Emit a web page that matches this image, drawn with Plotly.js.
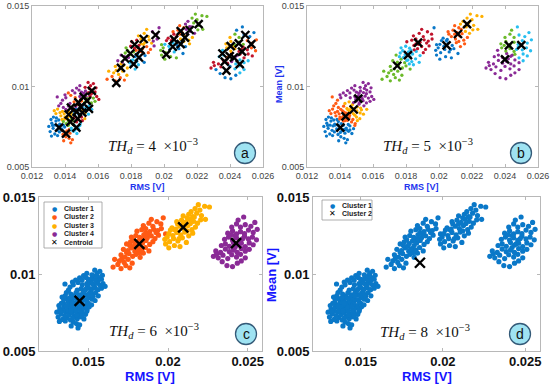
<!DOCTYPE html>
<html><head><meta charset="utf-8">
<script src="https://cdn.plot.ly/plotly-3.0.1.min.js"></script>
<style>html,body{margin:0;padding:0;background:#fff;overflow:hidden}#chart{width:550px;height:387px}</style>
</head><body><div id="chart"></div>
<script>
// ---- data (RMS, Mean) in mV, read/ ----
const group1 = [
[13.92,6.63],[14.25,6.78],[14.45,6.70],[13.18,6.92],[14.05,6.88],[13.55,6.95],
[13.38,7.05],[13.66,7.18],[13.88,7.02],[14.12,7.25],[14.30,7.10],[14.52,7.22],[14.72,7.08],[13.52,7.28],[14.02,7.15],[14.40,7.30],
[13.02,7.52],[13.28,7.40],[13.58,7.55],[13.80,7.36],[13.98,7.48],[14.18,7.58],[14.38,7.42],[14.60,7.55],[14.82,7.38],[14.26,7.33],[13.70,7.60],[14.90,7.58],
[13.20,7.72],[13.45,7.85],[13.68,7.66],[13.90,7.82],[14.08,7.70],[14.30,7.88],[14.50,7.64],[14.70,7.80],[14.92,7.70],[15.05,7.88],[13.82,7.95],[14.22,7.62],
[13.48,8.05],[13.75,8.18],[13.98,7.98],[14.18,8.12],[14.40,8.02],[14.58,8.20],[14.78,7.95],[15.00,8.10],[15.20,8.00],[14.30,8.25],[13.62,7.92],[14.90,8.22],
[13.70,8.38],[13.95,8.30],[14.15,8.48],[14.38,8.35],[14.60,8.45],[14.80,8.32],[15.02,8.48],[15.22,8.36],[15.42,8.28],[14.48,8.55],[14.05,8.58],[15.30,8.55],
[13.90,8.70],[14.22,8.78],[14.42,8.64],[14.65,8.76],[14.85,8.62],[15.05,8.74],[15.25,8.66],[15.45,8.80],[15.62,8.58],[14.75,8.88],[15.15,8.90],
[14.30,8.95],[14.55,9.05],[14.82,9.00],[15.00,9.10],[15.20,9.02],[15.40,9.12],[15.60,8.98],[15.82,9.08],[14.95,9.20],[15.35,9.25],
[14.62,9.30],[14.90,9.38],[15.10,9.42],[15.28,9.35],[15.52,9.40],[15.72,9.28],[15.92,9.38],[15.60,9.55],[15.15,9.58],
[15.00,9.65],[15.24,9.72],[15.42,9.62],[15.62,9.78],[15.82,9.66],[15.48,9.88],
[15.22,9.95],[15.55,10.05],[15.72,10.18],[15.40,10.25],[15.88,9.92],
[13.10,7.20],[16.05,9.20],[14.35,6.50],
[13.30,8.10],[13.45,8.32],[13.35,8.50],[13.55,8.60],[13.62,8.80],[13.75,8.95],[13.85,9.15],[14.05,9.30],[14.00,9.48],[14.20,9.60],
[14.35,9.45],[14.45,9.75],[14.60,9.60],[14.70,9.90],[14.85,9.78],[14.90,10.05],[13.53,9.35],[13.15,7.95],[13.40,7.60],[13.25,7.58],
[14.25,8.40],[14.50,8.30],[14.35,8.15],[14.55,8.05],[14.10,8.00],[14.65,8.60],[14.20,7.85],[14.45,7.90],[13.85,8.45],[14.00,8.10],[13.90,7.60],[14.60,7.30]
];
const group2 = [
[17.05,10.35],[17.35,10.55],[16.85,10.62],[16.55,10.45],
[16.95,10.85],[17.25,10.75],[17.50,10.95],[17.75,10.70],[17.10,11.00],[16.65,10.95],[17.60,10.40],
[17.05,11.25],[17.30,11.10],[17.55,11.32],[17.78,11.15],[18.00,11.28],[18.25,11.08],[17.40,11.40],[18.45,11.35],[18.20,11.40],
[17.20,11.60],[17.48,11.52],[17.70,11.70],[17.92,11.48],[18.12,11.65],[18.35,11.55],[18.58,11.72],[18.80,11.50],[17.85,11.80],[18.25,11.85],[18.05,11.62],[17.60,11.85],
[17.40,11.95],[17.65,12.08],[17.95,11.98],[18.15,12.15],[18.40,12.02],[18.62,12.18],[18.85,11.92],[19.05,12.10],[18.30,12.25],[17.80,12.22],[18.50,12.28],
[17.70,12.40],[17.98,12.50],[18.22,12.38],[18.48,12.55],[18.70,12.35],[18.95,12.48],[19.18,12.30],[19.40,12.52],[18.60,12.65],[18.75,12.62],[19.25,12.70],
[18.05,12.78],[18.35,12.88],[18.60,12.95],[18.85,12.75],[19.10,12.90],[19.35,12.82],[19.58,12.95],
[18.45,13.15],[18.80,13.30],[19.05,13.10],[19.30,13.40],[18.95,13.55],[19.55,13.25],[19.70,13.65],[19.85,12.60]
];
const group3 = [
[20.05,11.70],[20.40,11.85],[19.85,11.95],[20.75,11.78],
[19.80,12.25],[20.10,12.10],[20.35,12.30],[20.62,12.15],[20.90,12.35],[21.15,12.05],[19.95,12.40],[20.70,12.30],
[20.05,12.62],[20.30,12.50],[20.55,12.70],[20.80,12.55],[21.05,12.72],[21.30,12.48],[21.55,12.65],[20.45,12.85],[21.20,12.80],[20.15,12.85],
[20.25,13.00],[20.50,12.92],[20.75,13.10],[21.00,12.95],[21.25,13.15],[21.50,12.88],[21.72,13.05],[20.95,13.25],[21.40,13.28],[20.60,13.25],
[20.55,13.40],[20.85,13.50],[21.10,13.35],[21.35,13.55],[21.60,13.42],[21.85,13.30],[22.05,13.52],[21.20,13.65],[22.35,13.55],
[20.95,13.78],[21.30,13.88],[21.55,13.72],[21.80,13.95],[22.10,13.80],[21.45,14.05],[21.65,13.70],
[21.70,14.25],[22.00,14.15],[22.30,14.40],[21.90,14.50],[22.60,14.35]
];
const group4 = [
[23.70,10.55],[24.05,10.48],[24.35,10.70],[23.40,10.80],[24.60,10.85],
[22.85,11.15],[23.15,11.05],[23.45,11.22],[23.75,11.00],[24.00,11.25],[24.30,11.10],[24.55,11.28],[24.85,11.05],[23.05,11.30],
[23.00,11.50],[23.30,11.40],[23.60,11.62],[23.85,11.45],[24.10,11.55],[24.35,11.40],[24.60,11.65],[24.85,11.48],[25.10,11.60],
[23.35,11.85],[23.60,11.95],[23.85,11.80],[24.10,12.05],[24.35,11.88],[24.60,12.00],[24.85,11.78],[25.10,12.02],[25.35,11.90],[24.20,11.72],[24.45,11.95],
[23.55,12.25],[23.80,12.40],[24.05,12.20],[24.30,12.35],[24.55,12.18],[24.80,12.45],[25.05,12.28],[25.30,12.40],[25.55,12.22],[24.70,12.30],
[23.75,12.65],[24.05,12.80],[24.30,12.60],[24.55,12.75],[24.80,12.62],[25.05,12.85],[25.35,12.70],[25.60,12.90],[24.20,12.50],[23.95,12.55],
[24.00,13.05],[24.30,13.25],[24.55,13.05],[24.85,13.20],[25.20,13.10],[24.40,13.50],[24.75,13.70],[25.45,13.35]
];
// centroids (mV)
const centroidsA = [
[13.64,7.45],[14.06,7.07],[14.22,8.26],[14.36,8.69],[14.32,7.80],[14.69,7.45],[14.77,8.01],[14.71,8.42],
[14.81,9.02],[15.05,8.38],[15.13,9.36],[15.33,9.11],[15.45,8.61],[15.62,9.73],[14.95,8.73],
[17.11,10.23],[17.39,11.16],[17.64,11.74],[17.96,12.05],[18.16,11.39],[18.22,12.61],[18.48,11.80],[18.59,12.26],[18.77,12.95],[19.49,13.20],
[20.14,11.99],[20.53,12.47],[20.61,12.93],[21.01,12.63],[21.01,13.44],[21.27,13.03],[21.56,13.51],[22.10,13.88],
[23.54,12.05],[23.68,11.54],[23.78,10.98],[23.98,11.89],[24.04,12.51],[24.24,11.80],[24.53,12.68],[24.59,11.39],[24.73,12.16],[24.93,13.20],[25.29,12.63]
];
const centroidsB = [
[14.02,7.45],[14.34,8.15],[14.83,8.57],[15.11,9.25],[17.47,11.29],[18.12,11.95],[18.73,12.72],
[20.46,12.55],[21.15,13.26],[21.70,13.88],[24.00,11.68],[24.24,12.55],[24.99,12.57]
];
const centroidsC = [[14.45,8.25],[18.20,11.95],[20.95,13.03],[24.27,12.00]];
const centroidsD = [[18.60,10.73]];
const thValues = ['4','5','6','8'];
const panelLetters = ['a','b','c','d'];
const legendLabelsC = ['Cluster 1','Cluster 2','Cluster 3','Cluster 4','Centroid'];
const legendLabelsD = ['Cluster 1','Cluster 2'];
const xTickValsAB = [0.012,0.014,0.016,0.018,0.02,0.022,0.024,0.026];
const xTickTextAB = ['0.012','0.014','0.016','0.018','0.02','0.022','0.024','0.026'];
const xTickValsCD = [0.015,0.02,0.025];
const xTickTextCD = ['0.015','0.02','0.025'];
const yTickVals = [0.005,0.01,0.015];
const yTickText = ['0.005','0.01','0.015'];

const colors = ['#0a78c8','#ff5a14','#ffb000','#8a2a96','#6cba2a','#28bff0','#c0142c'];
const W = 550, H = 387;
const px = x => x / W, py = y => 1 - y / H;
const V = v => v / 1000;

const allPts = group1.concat(group2, group3, group4);
function nearest(p, cents) {
  let best = 0, bd = Infinity;
  cents.forEach((c, i) => { const dx = p[0]-c[0], dy = p[1]-c[1], d = dx*dx+dy*dy; if (d < bd) { bd = d; best = i; } });
  return best;
}
const traces = [];
function pointsByColour(cents, xa, ya, size) {
  const buckets = colors.map(() => ({x: [], y: []}));
  allPts.forEach(p => { const k = nearest(p, cents) % colors.length; buckets[k].x.push(V(p[0])); buckets[k].y.push(V(p[1])); });
  buckets.forEach((b, k) => traces.push({type:'scatter', mode:'markers', x:b.x, y:b.y, xaxis:xa, yaxis:ya,
    marker:{size:size, color:colors[k]}, showlegend:false, hoverinfo:'skip'}));
}
function centroidTrace(cents, xa, ya, size) {
  traces.push({type:'scatter', mode:'markers', x:cents.map(c=>V(c[0])), y:cents.map(c=>V(c[1])), xaxis:xa, yaxis:ya,
    marker:{symbol:'x-thin', size:size, line:{width:2.4, color:'#000'}}, showlegend:false});
}
// a
pointsByColour(centroidsA, 'x', 'y', 3.3);
centroidTrace(centroidsA, 'x', 'y', 8);
// b
pointsByColour(centroidsB, 'x2', 'y2', 3.3);
centroidTrace(centroidsB, 'x2', 'y2', 8);
// c
[group1, group2, group3, group4].forEach((g, k) => traces.push({type:'scatter', mode:'markers',
  x:g.map(p=>V(p[0])), y:g.map(p=>V(p[1])), xaxis:'x3', yaxis:'y3', marker:{size:5.2, color:colors[k]}, showlegend:false}));
centroidTrace(centroidsC, 'x3', 'y3', 10);
// d
traces.push({type:'scatter', mode:'markers', x:allPts.map(p=>V(p[0])), y:allPts.map(p=>V(p[1])), xaxis:'x4', yaxis:'y4',
  marker:{size:5.2, color:colors[0]}, showlegend:false});
centroidTrace(centroidsD, 'x4', 'y4', 10);

const axBase = {showgrid:false, zeroline:false, showline:true, mirror:'ticks', linecolor:'#b8b8b8', linewidth:1,
  ticks:'inside', ticklen:3, tickcolor:'#b8b8b8', fixedrange:true};
const smallFont = {family:'Arial, Liberation Sans', size:9, color:'#444'};
const bigFont = {family:'Arial, Liberation Sans', size:13, color:'#111', weight:700};
function ax(dom, range, vals, text, font) { return Object.assign({}, axBase, {domain:dom, range:range, tickvals:vals, ticktext:text, tickfont:font}); }
const layout = {
  width:W, height:H, margin:{l:0,r:0,t:0,b:0}, paper_bgcolor:'#fff', plot_bgcolor:'#fff', showlegend:false,
  xaxis: Object.assign(ax([px(32),px(263)],[0.012,0.026],xTickValsAB,xTickTextAB,smallFont),{anchor:'y'}),
  yaxis: Object.assign(ax([py(167),py(6)],[0.005,0.015],yTickVals,yTickText,smallFont),{anchor:'x'}),
  xaxis2: Object.assign(ax([px(307),px(538)],[0.012,0.026],xTickValsAB,xTickTextAB,smallFont),{anchor:'y2'}),
  yaxis2: Object.assign(ax([py(167),py(6)],[0.005,0.015],yTickVals,yTickText,smallFont),{anchor:'x2'}),
  xaxis3: Object.assign(ax([px(39),px(262)],[0.0119,0.0259],xTickValsCD,xTickTextCD,bigFont),{anchor:'y3', ticklabelstandoff:-2}),
  yaxis3: Object.assign(ax([py(351),py(197)],[0.005,0.015],yTickVals,yTickText,bigFont),{anchor:'x3'}),
  xaxis4: Object.assign(ax([px(313),px(540)],[0.0121,0.0259],xTickValsCD,xTickTextCD,bigFont),{anchor:'y4', ticklabelstandoff:-2}),
  yaxis4: Object.assign(ax([py(351),py(197)],[0.005,0.015],yTickVals,yTickText,bigFont),{anchor:'x4'}),
  annotations: [], shapes: []
};
const A = layout.annotations, S = layout.shapes;
function ann(x, y, text, font, extra) {
  A.push(Object.assign({xref:'paper', yref:'paper', x:px(x), y:py(y), xanchor:'center', yanchor:'middle',
    text:text, showarrow:false, font:font, borderpad:0}, extra||{}));
}
const blueSmall = {family:'Arial, Liberation Sans', size:9, color:'#2233ee', weight:700};
const blueBig = {family:'Arial, Liberation Sans', size:13, color:'#1414ff', weight:700};
ann(147, 187, 'RMS [V]', blueSmall);
ann(422, 187, 'RMS [V]', blueSmall);
ann(279, 84, 'Mean [V]', blueSmall, {textangle:-90});
ann(150, 376, 'RMS [V]', blueBig);
ann(427, 376, 'RMS [V]', blueBig);
ann(271, 275, 'Mean [V]', blueBig, {textangle:-90});
// TH_d labels
const thPos = [[153,146],[428,146],[154,331],[425,332]];
const serif = {family:'Liberation Serif, Times New Roman, serif', size:15, color:'#111'};
thPos.forEach((p, i) => ann(p[0], p[1], '<i>TH</i><sub><i>d</i></sub> = ' + thValues[i] + '  ×10<sup>−3</sup>', serif));
// circled panel letters
const circPos = [[245,153],[521,153],[246,334],[520,334]];
circPos.forEach((c, i) => {
  const r = 10.5;
  S.push({type:'circle', xref:'paper', yref:'paper', x0:px(c[0]-r), x1:px(c[0]+r), y0:py(c[1]+r), y1:py(c[1]-r),
    fillcolor:'#9fe3f2', line:{color:'#345a78', width:1.3}});
  ann(c[0], c[1], panelLetters[i], {family:'Arial, Liberation Sans', size:14, color:'#111'});
});
// legend c
S.push({type:'rect', xref:'paper', yref:'paper', x0:px(44), x1:px(102), y0:py(248), y1:py(202), fillcolor:'#fff', line:{color:'#999', width:0.8}});
const rowsC = [208, 216.5, 225, 233.5, 242];
const legFont = {family:'Arial, Liberation Sans', size:7, color:'#222', weight:700};
legendLabelsC.forEach((t, i) => {
  if (i < 4) ann(54, rowsC[i], '●', {family:'DejaVu Sans', size:6, color:colors[i]});
  else ann(54, rowsC[i], '✕', {family:'DejaVu Sans', size:8, color:'#000'});
  ann(63, rowsC[i], t, legFont, {xanchor:'left'});
});
// legend d
S.push({type:'rect', xref:'paper', yref:'paper', x0:px(322), x1:px(372), y0:py(220), y1:py(200), fillcolor:'#fff', line:{color:'#999', width:0.8}});
const rowsD = [205.5, 214];
legendLabelsD.forEach((t, i) => {
  if (i === 0) ann(332, rowsD[i], '●', {family:'DejaVu Sans', size:6, color:colors[0]});
  else ann(332, rowsD[i], '✕', {family:'DejaVu Sans', size:8, color:'#000'});
  ann(341, rowsD[i], t, legFont, {xanchor:'left'});
});
Plotly.newPlot('chart', traces, layout, {staticPlot:true, displayModeBar:false});
</script></body></html>
